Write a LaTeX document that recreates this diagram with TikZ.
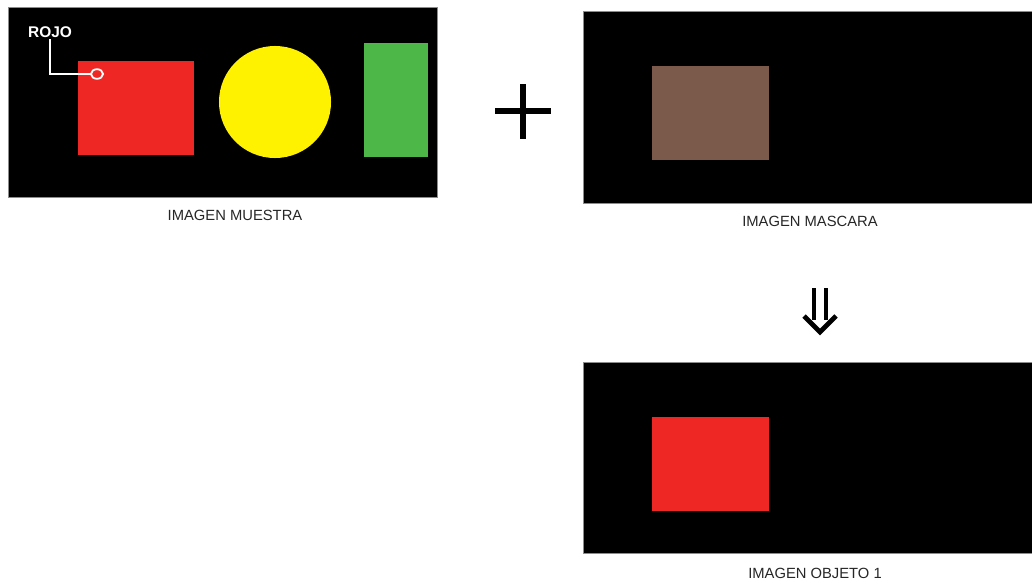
\documentclass[tikz,border=0pt]{standalone}
\usepackage{fontspec}
\setmainfont{Liberation Sans}
\usetikzlibrary{calc}
\definecolor{rojo}{HTML}{EE2724}
\definecolor{amarillo}{HTML}{FFF200}
\definecolor{verde}{HTML}{4DB748}
\definecolor{cafe}{HTML}{7B594B}
\tikzset{
  panel/.style={fill=black, draw=black!45, line width=0.6pt},
  caption/.style={font=\fontsize{10.5}{12}\selectfont, text=black!85, inner sep=0pt}
}
\begin{document}
\begin{tikzpicture}[x=0.025cm, y=-0.025cm]
  \useasboundingbox (0,0) rectangle (1032,585);
  % imagen muestra
  \fill[panel] (8,7) rectangle (437,197);
  \fill[rojo] (78,61) rectangle (194,155);
  \fill[amarillo] (275,102) circle (1.4cm);
  \fill[verde] (364,43) rectangle (428,157);
  \node[text=white, font=\bfseries\fontsize{11}{12}\selectfont, inner sep=1pt] (rojo) at (50,32) {ROJO};
  \coordinate (pin) at (97,74);
  \draw[white, line width=1.3pt] (rojo.south) |- ([xshift=-0.15cm]pin);
  \draw[white, line width=1.3pt] (pin) ellipse (0.15cm and 0.12cm);
  \node[caption] (muestra) at (235,215) {IMAGEN MUESTRA};
  % signo mas
  \draw[line width=3.8pt] (495,111) -- (551,111);
  \draw[line width=3.8pt] (523,84) -- (523,139);
  % imagen mascara
  \fill[panel] (583,11) rectangle (1034,203);
  \fill[cafe] (652,66) rectangle (769,160);
  \node[caption] (mascara) at (810,221) {IMAGEN MASCARA};
  % flecha
  \coordinate (arrtop) at (820,288);
  \coordinate (arrbot) at (820,332);
  \draw[line width=3pt] ($(arrtop)+(-6,0)$) -- ($(arrbot)+(-6,-12)$);
  \draw[line width=3pt] ($(arrtop)+(6,0)$) -- ($(arrbot)+(6,-12)$);
  \draw[line width=3.4pt, line join=miter] ($(arrbot)+(-16,-16)$) -- (arrbot) -- ($(arrbot)+(16,-16)$);
  % imagen objeto 1
  \fill[panel] (583,362) rectangle (1034,553);
  \fill[rojo] (652,417) rectangle (769,511);
  \node[caption] (objeto) at (815,573) {IMAGEN OBJETO 1};
\end{tikzpicture}
\end{document}
